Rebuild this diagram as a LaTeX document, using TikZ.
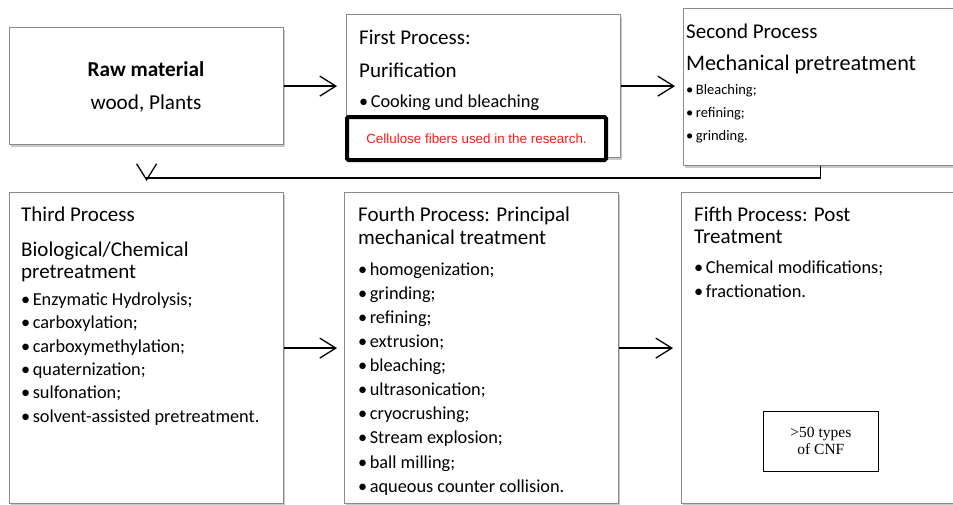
\documentclass[tikz,border=0pt]{standalone}
\usepackage{fontspec}
\setmainfont{Carlito}
\newfontfamily\notefont{Liberation Sans}
\newfontfamily\cnffont{Liberation Serif}
\usetikzlibrary{arrows.meta,shadows,calc}
\definecolor{boxgray}{HTML}{8A8A8A}
\definecolor{notered}{HTML}{FF1A1A}
\tikzset{
  stage/.style={draw=boxgray,line width=1.2pt,fill=white,anchor=north west,inner sep=0pt,
                drop shadow={shadow xshift=1.5pt,shadow yshift=-2pt,opacity=0.3,fill=black!70}},
  stagetext/.style={anchor=north west,inner sep=0pt,align=left,
                    font=\fontsize{18.3}{23.4}\selectfont},
  flow/.style={-{Straight Barb[length=16pt,width=20pt]},line width=1.3pt,draw=black}
}
\newcommand{\hd}[1]{{\fontsize{21}{22}\selectfont #1}}
\newcommand{\itm}{\textbullet\hspace{2.5pt}}
% first line is 16pt high, so the node top lies 16pt above its baseline
\newcommand{\topline}{\rule{0pt}{16pt}}

\begin{document}
\begin{tikzpicture}[x=1pt,y=-1pt]
  \useasboundingbox (0,0) rectangle (953,504);
  % top row
  \node[stage,minimum width=274pt,minimum height=117pt] (raw) at (9,27) {};
  \node[align=center,anchor=north,inner sep=0pt,font=\fontsize{21.2}{33}\selectfont] (rawtxt)
    at (146,60) {\topline\textbf{Raw material}\\wood, Plants};

  \node[stage,minimum width=274pt,minimum height=143pt] (first) at (346,14) {};
  \node[stagetext] (firsttxt) at (359,28)
    {\topline\hd{First Process:}\\[9.6pt]\hd{Purification}\\[6.6pt]\itm Cooking und bleaching};
  \node[draw=black,line width=4pt,rounded corners=1.5pt,fill=white,anchor=north west,inner sep=0pt,
        minimum width=259pt,minimum height=43pt,text=notered,font=\notefont\fontsize{13.4}{16}\selectfont]
    (note) at (345,115) {Cellulose fibers used in the research.};

  \node[stage,minimum width=280pt,minimum height=157pt] (second) at (683,8) {};
  \node[stagetext,font=\fontsize{14.5}{23.2}\selectfont] (secondtxt) at (686,22)
    {\topline\hd{Second Process}\\[8.8pt]{\fontsize{22.2}{22}\selectfont Mechanical pretreatment}\\[0.8pt]
     \itm Bleaching;\\\itm refining;\\\itm grinding.};

  % bottom row
  \node[stage,minimum width=274pt,minimum height=311pt] (third) at (9,192) {};
  \node[stagetext] (thirdtxt) at (21,205)
    {\topline\hd{Third Process}\\[11.6pt]\hd{Biological/Chemical}\\[-1.4pt]\hd{pretreatment}\\[3.6pt]
     \itm Enzymatic Hydrolysis;\\\itm carboxylation;\\\itm carboxymethylation;\\
     \itm quaternization;\\\itm sulfonation;\\\itm solvent-assisted pretreatment.};

  \node[stage,minimum width=274pt,minimum height=311pt] (fourth) at (344,192) {};
  \node[stagetext,font=\fontsize{18.3}{24.1}\selectfont] (fourthtxt) at (358,205)
    {\topline\hd{Fourth Process: Principal}\\[-1.1pt]\hd{mechanical treatment}\\[6.9pt]
     \itm homogenization;\\\itm grinding;\\\itm refining;\\\itm extrusion;\\\itm bleaching;\\
     \itm ultrasonication;\\\itm cryocrushing;\\\itm Stream explosion;\\\itm ball milling;\\
     \itm aqueous counter collision.};

  \node[stage,minimum width=280pt,minimum height=311pt] (fifth) at (681,192) {};
  \node[stagetext] (fifthtxt) at (694,205)
    {\topline\hd{Fifth Process: Post}\\[-1.4pt]\hd{Treatment}\\[6.6pt]\itm Chemical modifications;\\[0.6pt]\itm fractionation.};
  \node[draw=black,line width=0.8pt,anchor=north west,inner sep=0pt,align=center,
        minimum width=115pt,minimum height=60pt,font=\cnffont\fontsize{15.5}{17}\selectfont]
    (cnf) at (763,411) {>50 types\\of CNF};

  % connectors
  \draw[flow,shorten >=9pt] (raw.east) -- (first.west);
  \draw[flow,shorten >=8pt] (first.east) -- (first.east -| second.west);
  \draw[flow,shorten >=11pt] ([xshift=-3pt]second.south) |- ([yshift=14pt]third.north) -- (third.north);
  \draw[flow,shorten >=7pt] (third.east) -- (fourth.west);
  \draw[flow,shorten >=8pt] (fourth.east) -- (fifth.west);
\end{tikzpicture}
\end{document}
